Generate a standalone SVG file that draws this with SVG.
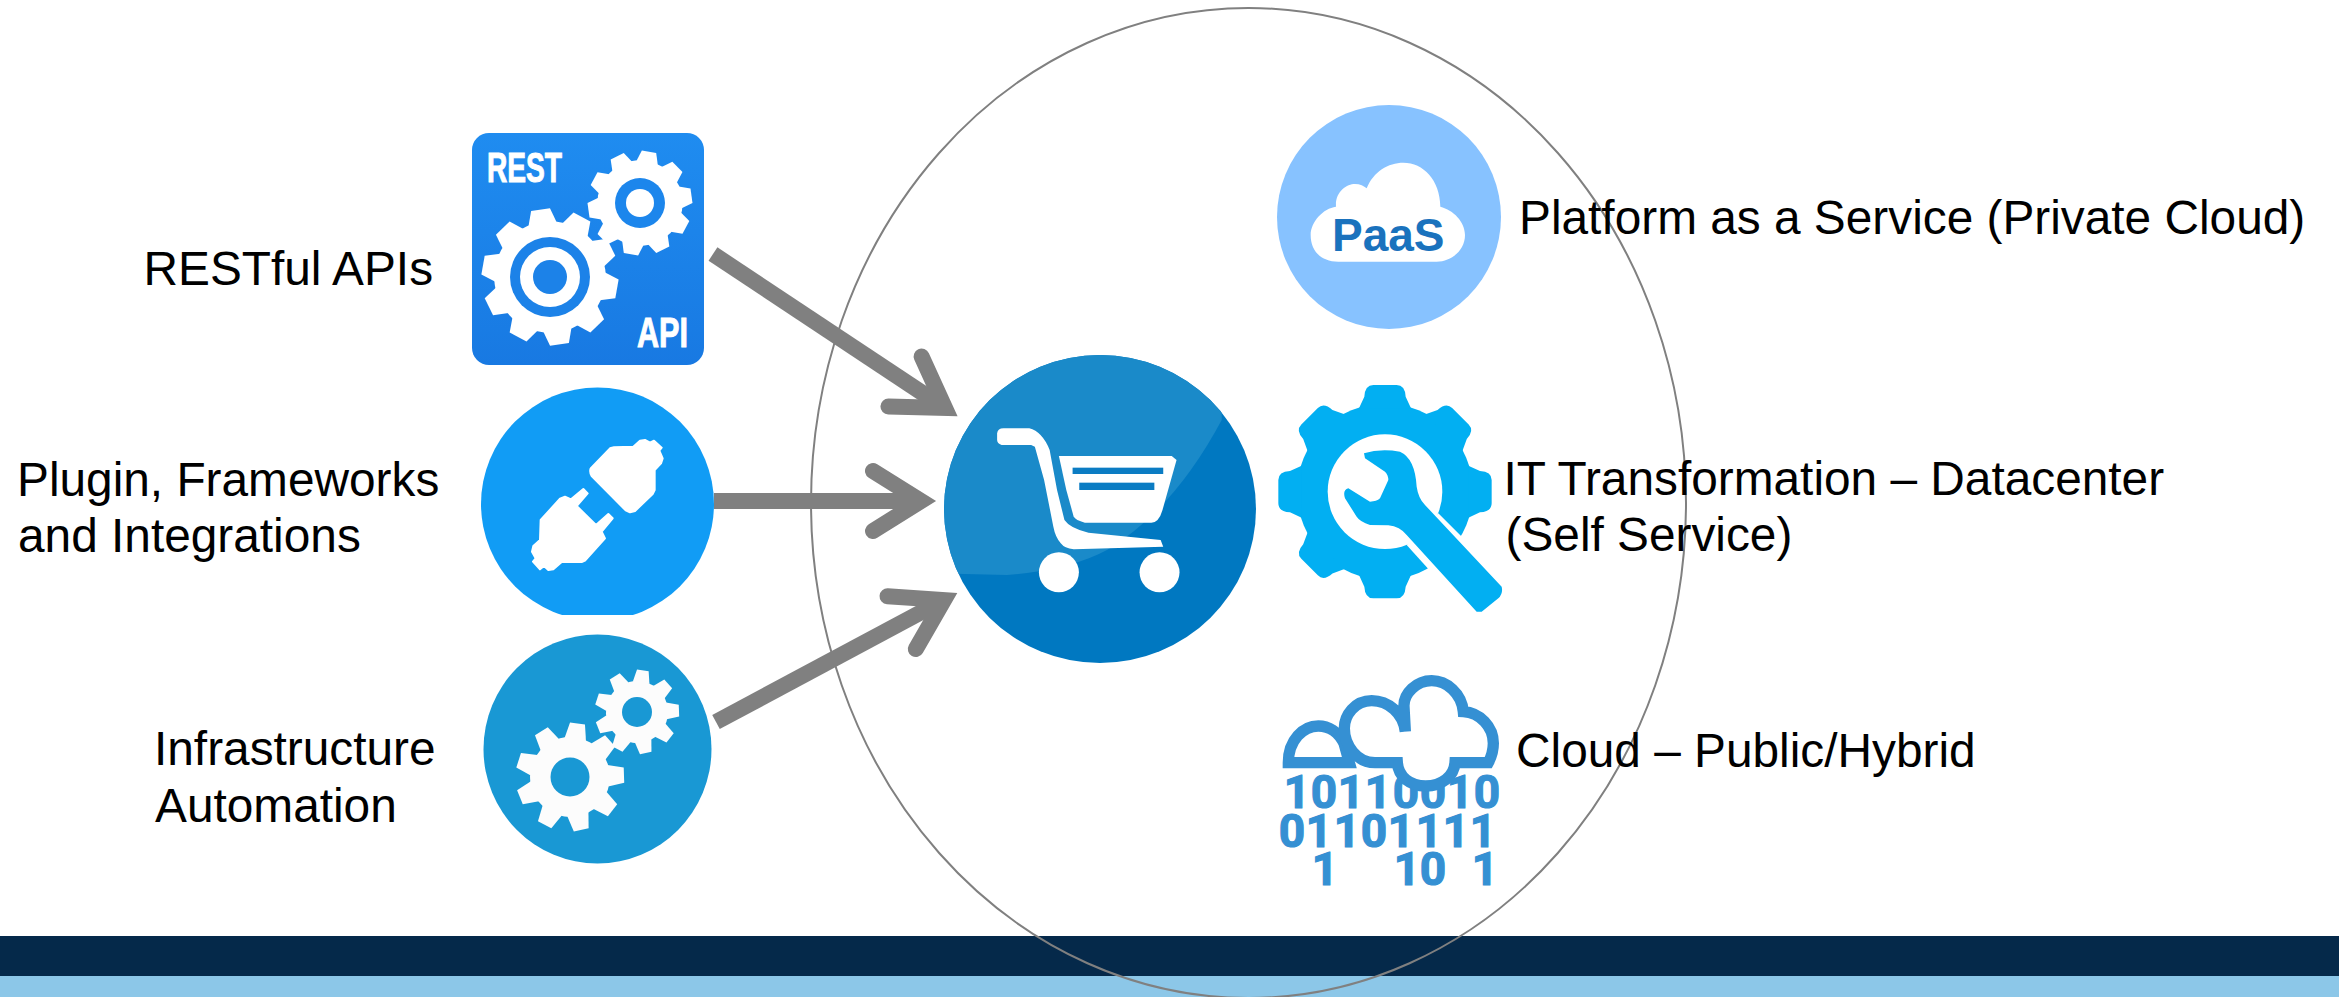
<svg xmlns="http://www.w3.org/2000/svg" width="2339" height="997" viewBox="0 0 2339 997">
<style>
.lbl{font-family:"Liberation Sans",Arial,sans-serif;font-size:47.8px;fill:#000}
.cond{font-family:"Liberation Sans Narrow","Liberation Sans",Arial,sans-serif;font-weight:700;font-size:42px;fill:#fff;stroke:#fff;stroke-width:1}
.bin{font-family:Roboto,"Liberation Sans",sans-serif;font-weight:700;font-size:46px;fill:#3590d3;stroke:#3590d3;stroke-width:1.2;text-anchor:middle}
.arrow{fill:none;stroke:#808080;stroke-width:16;marker-end:url(#head)}
.white{fill:#fff}
</style>
<defs>
<marker id="head" markerUnits="userSpaceOnUse" markerWidth="120" markerHeight="120" refX="60" refY="60" orient="auto" overflow="visible">
<path d="M12,30 L60,60 L12,90" fill="none" stroke="#808080" stroke-width="16" stroke-linecap="round" stroke-linejoin="miter" stroke-miterlimit="10"/>
</marker>
<linearGradient id="restBg" x1="0" y1="0" x2="0" y2="1"><stop offset="0" stop-color="#1f8cf0"/><stop offset="1" stop-color="#1879e2"/></linearGradient>
<clipPath id="plugClip"><rect x="470" y="380" width="260" height="235"/></clipPath>
<clipPath id="cartClip"><ellipse cx="1100" cy="509" rx="156" ry="154"/></clipPath>
<g id="g10"><circle r="82"/><polygon id="t10" points="-21,-78 -14,-100 14,-100 21,-78"/>
<use href="#t10" transform="rotate(36)"/><use href="#t10" transform="rotate(72)"/><use href="#t10" transform="rotate(108)"/><use href="#t10" transform="rotate(144)"/><use href="#t10" transform="rotate(180)"/><use href="#t10" transform="rotate(216)"/><use href="#t10" transform="rotate(252)"/><use href="#t10" transform="rotate(288)"/><use href="#t10" transform="rotate(324)"/></g>
<g id="g9"><circle r="74"/><polygon id="t9" points="-20,-70 -14,-100 14,-100 20,-70"/>
<use href="#t9" transform="rotate(40)"/><use href="#t9" transform="rotate(80)"/><use href="#t9" transform="rotate(120)"/><use href="#t9" transform="rotate(160)"/><use href="#t9" transform="rotate(200)"/><use href="#t9" transform="rotate(240)"/><use href="#t9" transform="rotate(280)"/><use href="#t9" transform="rotate(320)"/></g>
<path id="wt" d="M-78,-250 L-62,-285 Q-60,-320 -35,-320 L35,-320 Q60,-320 62,-285 L78,-250 Z"/>
</defs>

<g id="footer"><rect x="0" y="936" width="2339" height="40" fill="#05294a"/><rect x="0" y="976" width="2339" height="21" fill="#8cc7e8"/></g>
<g id="boundary"><ellipse cx="1248.500" cy="503" rx="437.500" ry="495" fill="none" stroke="#808080" stroke-width="2"/></g>

<g id="connectors">
<path class="arrow" d="M713,254 L945,408"/>
<path class="arrow" d="M714,501 L921,501"/>
<path class="arrow" d="M716,722 L944,600"/>
</g>

<g id="rest-api">
<rect x="472" y="133" width="232" height="232" rx="17" fill="url(#restBg)"/>
<g class="white"><use href="#g10" transform="translate(550 277) scale(.68) rotate(-8)"/></g>
<circle cx="550" cy="277" r="40" fill="#1c82e8"/><circle cx="550" cy="277" r="30" fill="#fff"/><circle cx="550" cy="277" r="17" fill="#1c82e8"/>
<g class="white"><use href="#g10" transform="translate(640 203) scale(.52) rotate(10)"/></g>
<circle cx="640" cy="203" r="25" fill="#1c86ec"/><circle cx="640" cy="203" r="14" fill="#fff"/>
<text class="cond" x="487" y="182" textLength="75" lengthAdjust="spacingAndGlyphs">REST</text>
<text class="cond" x="637" y="347" textLength="51" lengthAdjust="spacingAndGlyphs">API</text>
</g>
<text class="lbl" x="143.500" y="285">RESTful APIs</text>

<g id="plugin">
<circle cx="597.500" cy="504" r="116.500" fill="#119cf5" clip-path="url(#plugClip)"/>
<g transform="translate(470 380) scale(.33333)" fill="#fff" stroke="#fff" stroke-width="6" stroke-linejoin="round">
<path d="M362,265 L420,205 L432,202 L490,200 L510,182 L525,180 L540,188 L552,182 L575,203 L568,212 L578,235 L573,250 L554,270 L554,330 L548,342 L495,393 L480,397 L467,391 L365,288 Q358,275 362,265Z"/>
<path d="M212,420 L270,356 L285,350 L303,358 L340,327 L353,340 L320,378 L378,435 L415,402 L428,415 L395,455 L405,475 L345,542 L335,546 L275,546 L250,568 L235,570 L222,558 L210,568 L189,545 L197,535 L186,515 L190,498 L210,480Z"/>
</g>
</g>
<text class="lbl" x="17" y="496">Plugin, Frameworks</text>
<text class="lbl" x="18" y="552">and Integrations</text>

<g id="automation">
<ellipse cx="597.500" cy="749" rx="114" ry="114.500" fill="#1998d4"/>
<g fill="#fcfcfc"><use href="#g9" transform="translate(570 777) scale(.54) rotate(8)"/><use href="#g9" transform="translate(637 712) scale(.42) rotate(8)"/></g>
<circle cx="570" cy="777" r="19.500" fill="#1998d4"/><circle cx="637" cy="712" r="15" fill="#1998d4"/>
</g>
<text class="lbl" x="154" y="765">Infrastructure</text>
<text class="lbl" x="155" y="821.500">Automation</text>

<g id="cart">
<ellipse cx="1100" cy="509" rx="156" ry="154" fill="#0078c1"/>
<g clip-path="url(#cartClip)"><g transform="translate(700 340) scale(.37 .33333)">
<path d="M650,700 L830,705 Q1000,690 1100,630 Q1280,510 1410,240 L1410,0 L650,0Z" fill="#1a8ac9"/>
<path class="white" d="M803,280 Q805,265 820,265 L890,265 Q925,275 945,330 L965,450 L985,540 Q1000,565 1050,578 L1245,600 L1252,620 L1010,628 Q985,625 975,610 Q960,590 955,560 L930,420 L905,320 L895,315 L815,315 Q803,310 803,300Z"/>
<path class="white" d="M970,348 L1275,348 L1288,360 L1250,510 Q1240,548 1220,548 L1040,548 Q1015,540 1010,530 L990,450Z"/>
<rect x="1007" y="383" width="245" height="19" fill="#0b7cc3"/><rect x="1025" y="428" width="203" height="22" fill="#0b7cc3"/>
<ellipse class="white" cx="970" cy="697" rx="54" ry="60"/><ellipse class="white" cx="1242" cy="697" rx="54" ry="60"/>
</g></g>
</g>

<g id="paas">
<circle cx="1389" cy="217" r="112" fill="#87c2ff"/>
<path class="white" transform="translate(1260 90) scale(.33333)" d="M235,515 C180,515 152,480 152,435 C152,395 190,355 228,350 C225,305 260,282 285,282 C300,282 312,288 320,295 C340,245 385,218 430,218 C490,218 540,270 541,350 C580,360 615,395 615,435 C615,480 575,515 530,515Z"/>
<text x="1332" y="251" font-family="Liberation Sans, Arial, sans-serif" font-weight="700" font-size="46" fill="#1a72bd">PaaS</text>
</g>
<text class="lbl" x="1519" y="234">Platform as a Service (Private Cloud)</text>

<g id="it-transformation">
<g transform="translate(1260 370) scale(.33333)">
<g fill="#02aff2" transform="translate(375 365)"><circle r="264"/><use href="#wt"/><use href="#wt" transform="rotate(45)"/><use href="#wt" transform="rotate(90)"/><use href="#wt" transform="rotate(180)"/><use href="#wt" transform="rotate(225)"/><use href="#wt" transform="rotate(270)"/><use href="#wt" transform="rotate(315)"/></g>
<circle cx="375" cy="365" r="172" fill="#fff"/>
<path class="white" d="M535,430 L640,535 L535,630 L440,525Z"/>
<path fill="#02aff2" d="M312,250 Q360,235 420,245 Q465,265 470,350 Q475,385 495,405 L725,650 Q730,670 715,685 L665,725 L650,725 L440,495 Q420,470 385,466 L330,465 Q300,455 290,440 L255,385 Q247,360 265,355 L330,395 Q350,395 360,385 L385,330 Q385,315 375,305 L315,265Z"/>
</g>
</g>
<text class="lbl" x="1503.500" y="494.500">IT Transformation – Datacenter</text>
<text class="lbl" x="1505.500" y="551">(Self Service)</text>

<g id="cloud">
<text class="bin" y="808" x="1297 1324 1351 1378 1406 1433 1460 1487">10110010</text>
<text class="bin" y="847" x="1292 1319 1347 1374 1401 1429 1456 1483">01101111</text>
<text class="bin" y="885" x="1325 1407 1433 1485">1101</text>
<g transform="translate(1260 660) scale(.33333)" fill="#fff" stroke="#3590d3" stroke-width="34">
<path d="M85,308 C85,240 130,198 175,198 C205,198 235,215 252,250 L268,308Z"/>
<path d="M436,215 C430,160 385,122 335,122 C285,122 253,165 253,205 C253,255 290,308 345,308 L412,308 C415,350 450,378 497,378 C545,378 582,350 585,308 L685,308 C697,285 700,265 700,250 C700,200 660,158 610,155 C605,100 560,62 515,62 C470,62 430,100 432,140 L436,215"/>
</g>
</g>
<text class="lbl" x="1516" y="767">Cloud – Public/Hybrid</text>
</svg>
